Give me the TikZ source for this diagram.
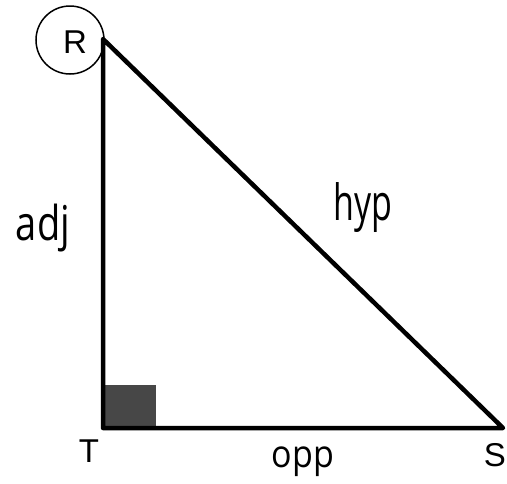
\documentclass[tikz,border=0pt]{standalone}
\usepackage{fontspec}
\setmainfont{Liberation Sans}
\newfontfamily\handfont{Open Sans}
\tikzset{
  side/.style={line width=4.5pt, line cap=round, line join=round},
  vlabel/.style={font=\fontsize{33}{36}\selectfont, inner sep=0pt},
  hand/.style={font=\handfont\fontsize{40}{44}\selectfont, inner sep=0pt},
  ring/.style={draw, circle, line width=1.5pt, minimum size=68pt, inner sep=0pt}
}
\begin{document}
\begin{tikzpicture}[x=1pt,y=-1pt]
\useasboundingbox (0,0) rectangle (507,483);
\coordinate (Rc) at (103,39);
\coordinate (Tc) at (103,428);
\coordinate (Sc) at (503,428);
\fill[black!72] (101,385) rectangle (156,428);
\draw[side] (Rc) -- (Tc) -- (Sc) -- cycle;
\node[ring] (circ) at (70,40) {};
\node[vlabel] (R) at (75,42) {R};
\node[vlabel] (T) at (89,451) {T};
\node[vlabel] (S) at (495,455) {S};
\node[hand, xscale=0.95, yscale=1.2] (adj) at (43,228) {adj};
\node[hand, xscale=0.85, yscale=1.25] (hyp) at (363,208) {hyp};
\node[hand, xscale=0.85, yscale=0.95] (opp) at (303,462) {opp};
\end{tikzpicture}
\end{document}
